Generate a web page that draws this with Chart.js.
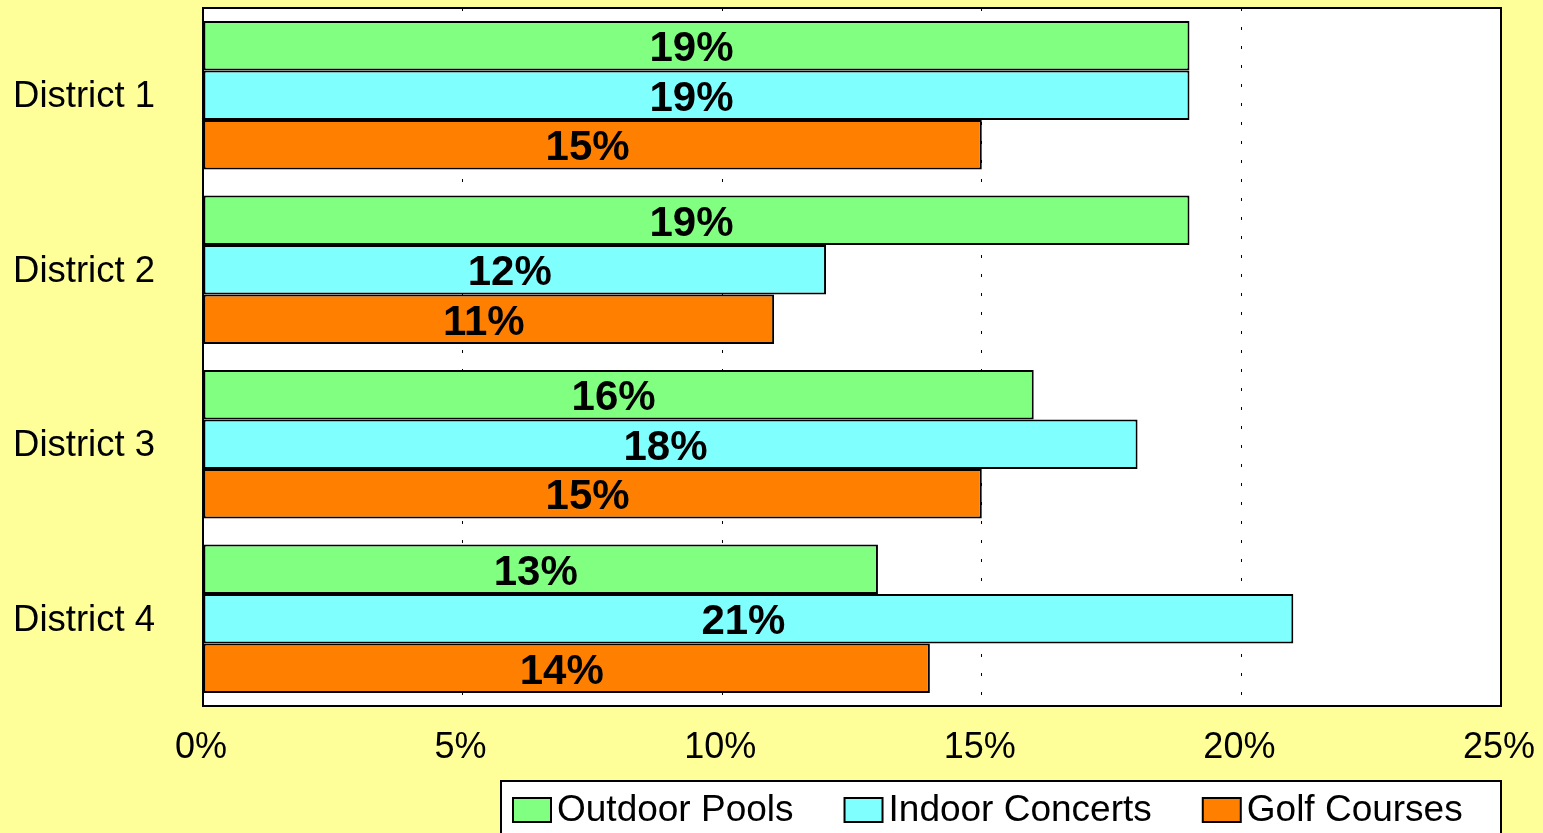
<!DOCTYPE html>
<html>
<head>
<meta charset="utf-8">
<script src="https://cdn.jsdelivr.net/npm/chart.js@4/dist/chart.umd.min.js"></script>
<style>
html,body{margin:0;padding:0;background:#FFFF99;}
canvas{display:block;}
</style>
</head>
<body>
<canvas id="c" width="1543" height="833"></canvas>
<script>
const categories = ['District 1', 'District 2', 'District 3', 'District 4'];
const outdoorPools = [19, 19, 16, 13];
const indoorConcerts = [19, 12, 18, 21];
const golfCourses = [15, 11, 15, 14];
const seriesNames = ['Outdoor Pools', 'Indoor Concerts', 'Golf Courses'];
const seriesColors = ['#80FF80', '#80FFFF', '#FF8000'];
const xTicks = [0, 5, 10, 15, 20, 25];

const FONT = "'Liberation Sans', Arial, sans-serif";

const plotBg = {
  id: 'plotBg',
  beforeDraw(chart) {
    const {ctx, chartArea: a} = chart;
    ctx.save();
    ctx.fillStyle = '#FFFFFF';
    ctx.fillRect(a.left, a.top, a.right - a.left, a.bottom - a.top);
    ctx.restore();
  },
  afterDraw(chart) {
    const {ctx, chartArea: a} = chart;
    ctx.save();
    ctx.strokeStyle = '#000';
    ctx.lineWidth = 2;
    ctx.strokeRect(a.left, a.top, a.right - a.left, a.bottom - a.top);
    // legend
    const bx = 501, by = 781;
    ctx.fillStyle = '#FFFFFF';
    ctx.fillRect(bx, by, a.right - bx, 70);
    ctx.strokeRect(bx, by, a.right - bx, 70);
    ctx.font = '37px ' + FONT;
    ctx.textBaseline = 'middle';
    ctx.textAlign = 'left';
    let x = bx + 12;
    const y = 810;
    chart.data.datasets.forEach((ds, i) => {
      ctx.fillStyle = ds.backgroundColor;
      ctx.fillRect(x, y - 12, 38, 24);
      ctx.lineWidth = 2;
      ctx.strokeStyle = '#000';
      ctx.strokeRect(x, y - 12, 38, 24);
      ctx.fillStyle = '#000';
      ctx.fillText(ds.label, x + 44, y + 1);
      x += 44 + ctx.measureText(ds.label).width + 51;
    });
    ctx.restore();
  }
};

const barLabels = {
  id: 'barLabels',
  afterDatasetsDraw(chart) {
    const {ctx} = chart;
    ctx.save();
    ctx.font = 'bold 42px ' + FONT;
    ctx.fillStyle = '#000';
    ctx.textAlign = 'center';
    ctx.textBaseline = 'middle';
    chart.data.datasets.forEach((ds, di) => {
      chart.getDatasetMeta(di).data.forEach((bar, i) => {
        const cx = (bar.base + bar.x) / 2;
        ctx.fillText(ds.data[i] + '%', cx - 5, bar.y + 4);
      });
    });
    ctx.restore();
  }
};

const seriesData = [outdoorPools, indoorConcerts, golfCourses];

new Chart(document.getElementById('c'), {
  type: 'bar',
  data: {
    labels: categories,
    datasets: seriesNames.map((name, i) => ({
      label: name,
      data: seriesData[i],
      backgroundColor: seriesColors[i],
      borderColor: '#000',
      borderWidth: 2,
      borderSkipped: false,
      barPercentage: 1.0,
      categoryPercentage: 0.852
    }))
  },
  options: {
    indexAxis: 'y',
    responsive: false,
    animation: false,
    devicePixelRatio: 1,
    layout: { padding: { left: 10, right: 42, top: 8, bottom: 57 } },
    plugins: { legend: { display: false }, tooltip: { enabled: false } },
    scales: {
      x: {
        min: 0, max: 25,
        afterBuildTicks(scale) { scale.ticks = xTicks.map(v => ({value: v})); },
        afterFit(scale) { scale.height = 70; scale.paddingLeft = 0; scale.paddingRight = 0; },
        border: { display: false, dash: [3, 16] },
        grid: {
          color: '#000', lineWidth: 1, drawTicks: false
        },
        ticks: {
          color: '#000', padding: 20, labelOffset: -2,
          font: { family: FONT, size: 36 },
          callback: v => v + '%',
          maxRotation: 0
        }
      },
      y: {
        afterFit(scale) { scale.width = 193; scale.paddingTop = 0; scale.paddingBottom = 0; },
        border: { display: false },
        grid: { display: false, drawTicks: false },
        ticks: {
          color: '#000', padding: 48, labelOffset: 2,
          font: { family: FONT, size: 36.5 }
        }
      }
    }
  },
  plugins: [plotBg, barLabels]
});
</script>
</body>
</html>
